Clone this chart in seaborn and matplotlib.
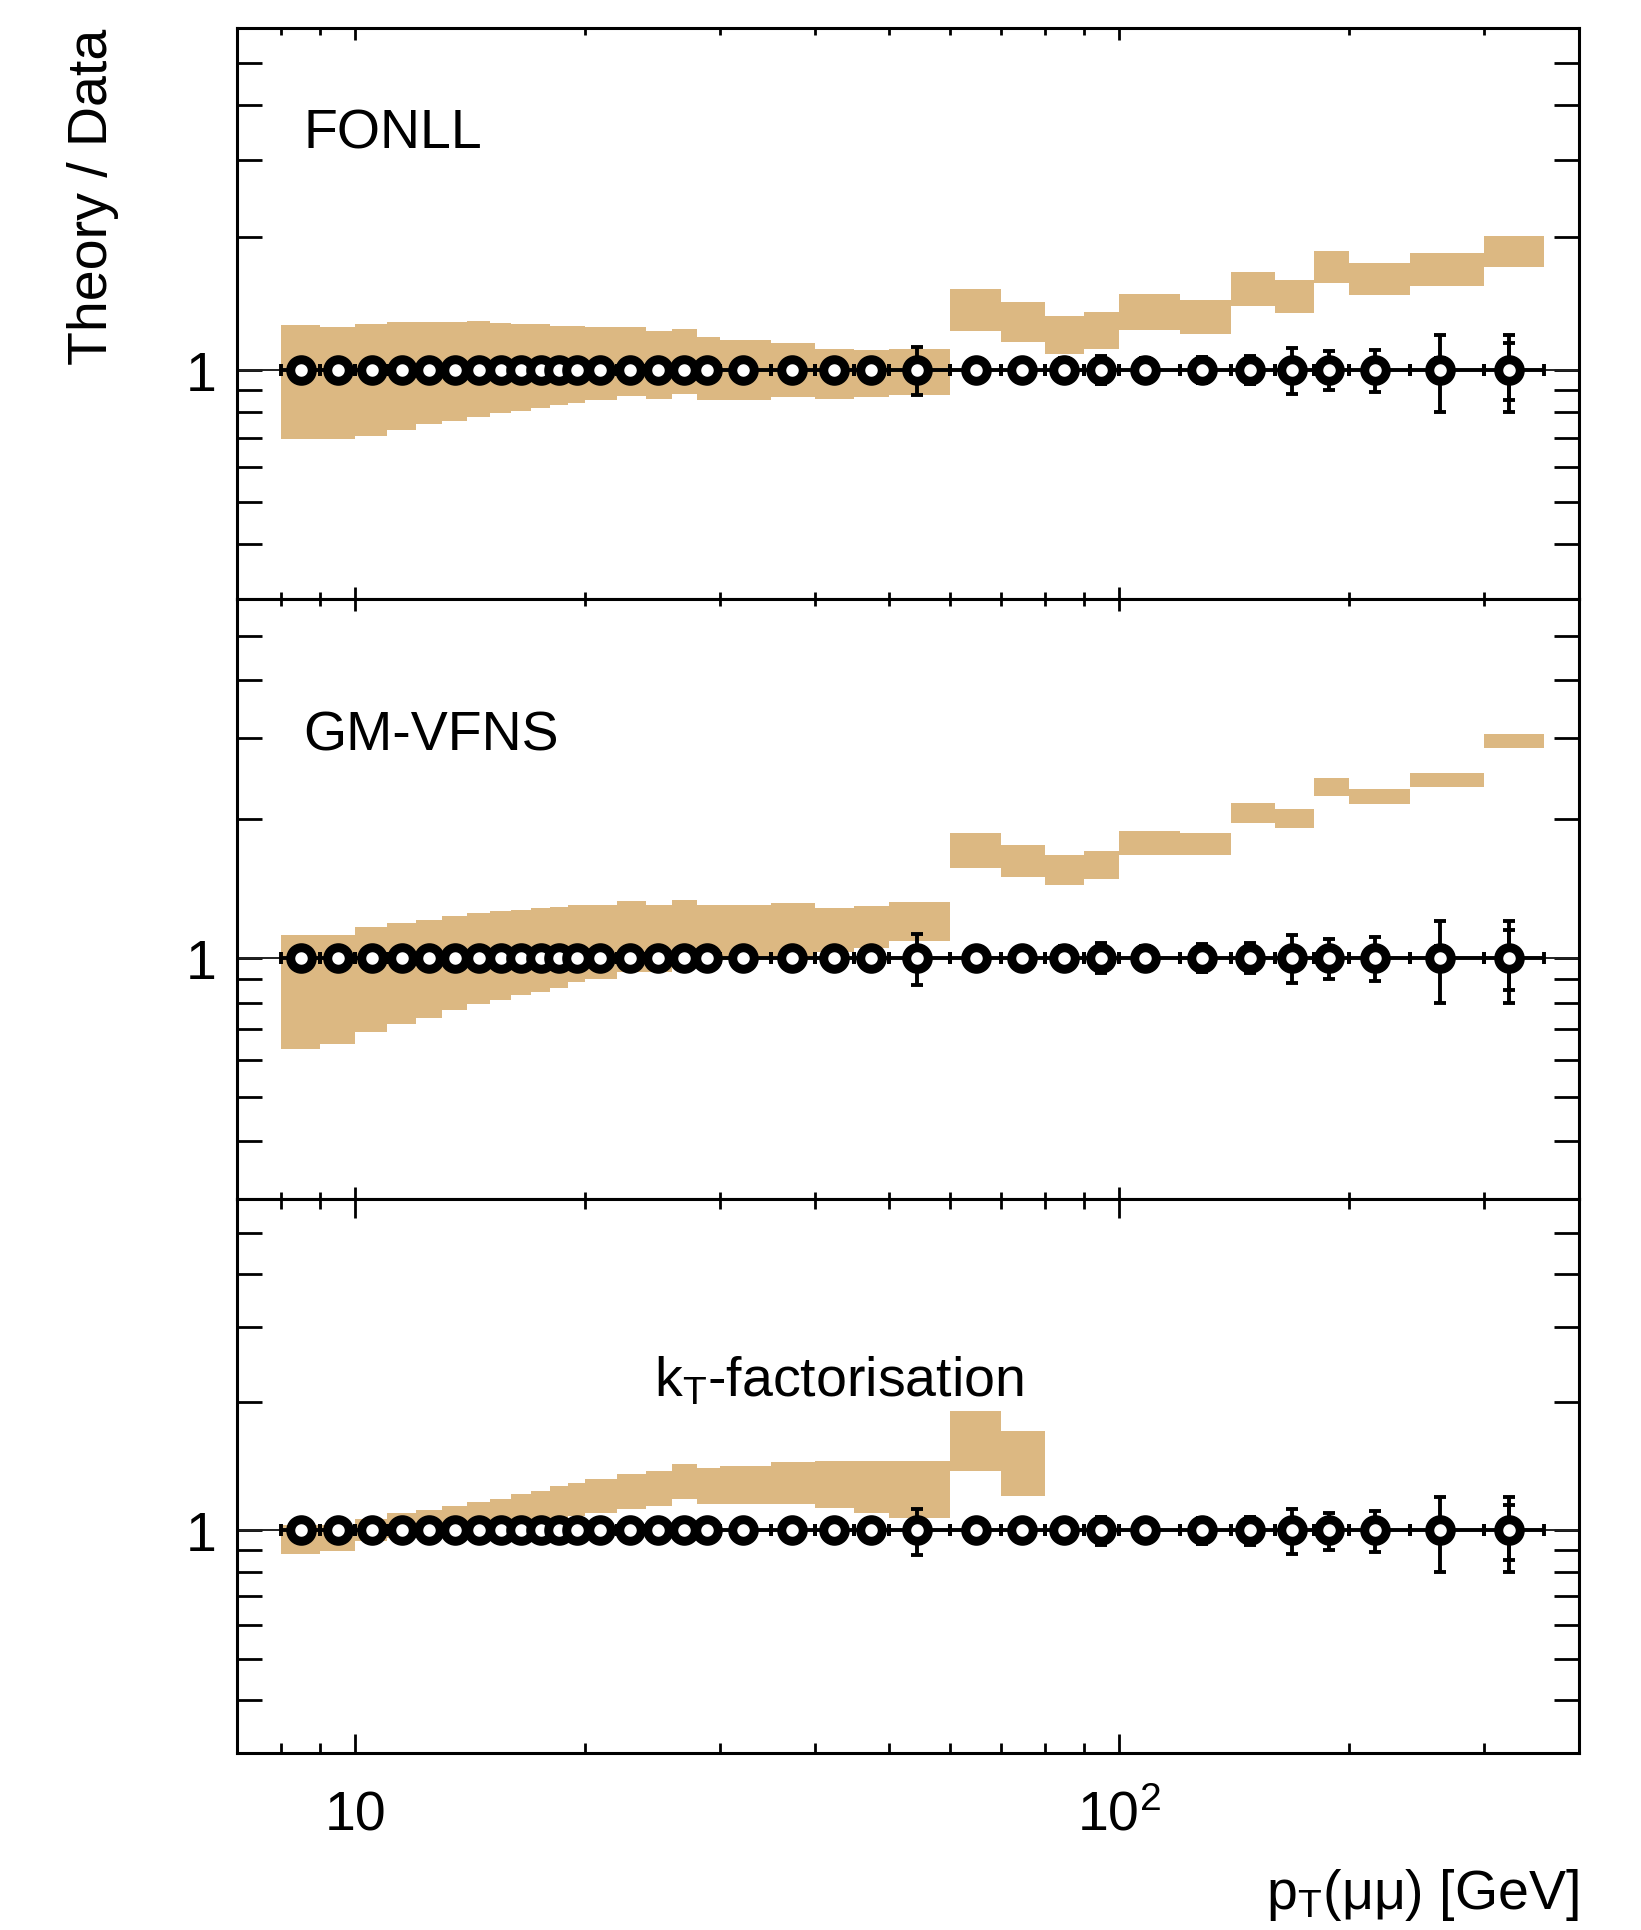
import numpy as np
import seaborn as sns
import matplotlib.pyplot as plt
from matplotlib.ticker import FixedLocator, FixedFormatter, NullFormatter

sns.set_theme(style="ticks")
plt.rcParams["font.family"] = ["Liberation Sans", "DejaVu Sans"]
plt.rcParams["mathtext.fontset"] = "custom"
plt.rcParams["mathtext.rm"] = "Liberation Sans"
plt.rcParams["mathtext.it"] = "Liberation Sans:italic"
plt.rcParams["mathtext.bf"] = "Liberation Sans:bold"

# pT(mumu) binning [GeV] and mean pT of the data points
pt_edges = [8, 9, 10, 11, 12, 13, 14, 15, 16, 17, 18, 19, 20, 22, 24, 26, 28, 30,
            35, 40, 45, 50, 60, 70, 80, 90, 100, 120, 140, 160, 180, 200, 240, 300, 360]
pt_mean = [8.5, 9.5, 10.5, 11.5, 12.5, 13.5, 14.5, 15.5, 16.5, 17.5, 18.5, 19.5,
           20.9, 22.9, 24.9, 26.9, 28.9, 32.2, 37.3, 42.3, 47.3, 54.3, 65.0, 74.6,
           84.6, 94.6, 108.2, 128.5, 148.4, 168.6, 188.5, 216.0, 263.0, 324.0]

# data / data = 1, total and statistical relative uncertainties
err_tot = [0.02, 0.02, 0.02, 0.02, 0.02, 0.02, 0.02, 0.02, 0.02, 0.02, 0.02, 0.02,
           0.02, 0.02, 0.02, 0.02, 0.02, 0.03, 0.03, 0.03, 0.04, 0.125, 0.04, 0.05,
           0.06, 0.075, 0.06, 0.07, 0.075, 0.12, 0.10, 0.11, 0.20, 0.20]
err_stat = [0.01, 0.01, 0.01, 0.01, 0.01, 0.01, 0.01, 0.01, 0.01, 0.01, 0.01, 0.01,
            0.01, 0.01, 0.01, 0.01, 0.01, 0.02, 0.02, 0.02, 0.02, 0.03, 0.02, 0.02,
            0.03, 0.03, 0.03, 0.04, 0.04, 0.05, 0.05, 0.05, 0.06, 0.15]

# theory / data bands (lower, upper edge per bin)
fonll_lo = [0.695, 0.695, 0.707, 0.730, 0.752, 0.765, 0.781, 0.796, 0.806, 0.816, 0.828, 0.838,
            0.850, 0.869, 0.857, 0.880, 0.852, 0.852, 0.864, 0.857, 0.864, 0.875,
            1.222, 1.155, 1.082, 1.111, 1.229, 1.203, 1.395, 1.342, 1.573, 1.479, 1.553, 1.712]
fonll_hi = [1.265, 1.247, 1.269, 1.280, 1.280, 1.280, 1.287, 1.275, 1.269, 1.269, 1.258, 1.258,
            1.247, 1.247, 1.221, 1.240, 1.183, 1.169, 1.147, 1.113, 1.107, 1.113,
            1.526, 1.422, 1.326, 1.354, 1.484, 1.440, 1.667, 1.601, 1.859, 1.748, 1.843, 2.020]

gmvfns_lo = [0.634, 0.652, 0.691, 0.717, 0.741, 0.770, 0.793, 0.809, 0.830, 0.844, 0.862, 0.887,
             0.902, 0.933, 0.933, 0.965, 0.980, 0.990, 1.010, 1.030, 1.050, 1.090,
             1.563, 1.499, 1.437, 1.486, 1.670, 1.670, 1.956, 1.914, 2.246, 2.154, 2.349, 2.854]
gmvfns_hi = [1.120, 1.120, 1.167, 1.193, 1.211, 1.233, 1.252, 1.262, 1.269, 1.280, 1.290, 1.301,
             1.305, 1.327, 1.305, 1.338, 1.301, 1.301, 1.312, 1.280, 1.295, 1.323,
             1.867, 1.755, 1.670, 1.707, 1.886, 1.867, 2.162, 2.098, 2.449, 2.322, 2.523, 3.051]

# kT-factorisation only up to 80 GeV
kt_lo = [0.880, 0.893, 0.944, 0.961, 0.979, 0.993, 1.005, 1.018, 1.033, 1.048, 1.067, 1.080,
         1.100, 1.120, 1.141, 1.182, 1.151, 1.155, 1.151, 1.130, 1.100, 1.067, 1.378, 1.204]
kt_hi = [1.030, 1.030, 1.061, 1.100, 1.114, 1.141, 1.167, 1.182, 1.215, 1.237, 1.271, 1.294,
         1.322, 1.359, 1.378, 1.434, 1.398, 1.416, 1.449, 1.454, 1.454, 1.454, 1.906, 1.711]

band_color = "#dcb882"
W, H = 1641, 1931


def draw_panel(ax, lo, hi, label, lx, ly, xmaj, xmin):
    edges = np.array(pt_edges, dtype=float)
    lo = np.array(lo)
    hi = np.array(hi)
    n = len(lo)
    ax.set_xscale("log")
    ax.set_yscale("log")
    ax.bar(edges[:n], hi - lo, width=np.diff(edges)[:n], bottom=lo, align="edge",
           color=band_color, linewidth=0, zorder=1)
    ax.axhline(1, color="#222222", lw=1.4, zorder=2)

    x = np.array(pt_mean)
    y = np.ones_like(x)
    xerr = [x - edges[:-1], edges[1:] - x]
    ax.errorbar(x, y, xerr=xerr, yerr=err_tot, fmt="none", ecolor="black",
                elinewidth=2.8, capsize=4.3, capthick=2.8, zorder=3)
    ax.errorbar(x, y, yerr=err_stat, fmt="none", ecolor="black",
                elinewidth=2.8, capsize=4.3, capthick=2.8, zorder=3)
    sns.scatterplot(x=x, y=y, ax=ax, marker="o", s=15.5 ** 2, color="white",
                    edgecolor="black", linewidth=6.5, zorder=4, legend=False)

    ax.set_xlim(7, 400)
    ax.set_ylim(0.3, 6)
    ax.xaxis.set_major_locator(FixedLocator([10, 100]))
    ax.xaxis.set_minor_locator(FixedLocator([8, 9, 20, 30, 40, 50, 60, 70, 80, 90, 200, 300]))
    ax.xaxis.set_minor_formatter(NullFormatter())
    ax.yaxis.set_major_locator(FixedLocator([1]))
    ax.yaxis.set_major_formatter(FixedFormatter(["1"]))
    ax.yaxis.set_minor_locator(FixedLocator([0.4, 0.5, 0.6, 0.7, 0.8, 0.9, 2, 3, 4, 5]))
    ax.yaxis.set_minor_formatter(NullFormatter())

    ax.tick_params(axis="both", which="both", direction="in", top=True, right=True,
                   width=2, color="black", labelcolor="black", labelsize=40)
    ax.tick_params(axis="y", which="both", length=18, pad=15)
    ax.tick_params(axis="x", which="major", length=xmaj)
    ax.tick_params(axis="x", which="minor", length=xmin)
    for s in ax.spines.values():
        s.set_linewidth(2.2)
        s.set_color("black")
    ax.set_xlabel("")
    ax.set_ylabel("")
    ax.text(lx, ly, label, transform=ax.transAxes, fontsize=40, va="baseline",
            ha="left", color="black")


fig = plt.figure(figsize=(W / 100, H / 100), dpi=100)
left = 237 / W
width = (1579 - 237) / W
ax1 = fig.add_axes([left, 1 - 600 / H, width, 571 / H])
ax2 = fig.add_axes([left, 1 - 1200 / H, width, 600 / H])
ax3 = fig.add_axes([left, 1 - 1754 / H, width, 554 / H])

draw_panel(ax1, fonll_lo, fonll_hi, "FONLL", 0.0497, 0.79, 8.6, 4.7)
draw_panel(ax2, gmvfns_lo, gmvfns_hi, "GM-VFNS", 0.0497, 0.749, 8.6, 4.7)
draw_panel(ax3, kt_lo, kt_hi, r"k$_{\mathrm{T}}$-factorisation", 0.311, 0.645, 13.7, 7.2)

for ax in (ax1, ax2):
    ax.xaxis.set_major_formatter(NullFormatter())

ax3.xaxis.set_major_formatter(FixedFormatter(["10", r"$\mathregular{10^{2}}$"]))
ax3.tick_params(axis="x", which="major", pad=55)
for t in ax3.xaxis.get_major_ticks():
    t.label1.set_verticalalignment("baseline")

fig.text(93 / W, 1 - 29 / H, "Theory / Data", rotation=90, ha="center", va="top",
         fontsize=40, color="black")
fig.text(1579 / W, 1 - 1909 / H, r"p$_{\mathrm{T}}$(μμ) [GeV]", ha="right",
         va="baseline", fontsize=40, color="black")

fig.savefig("out.png", dpi=100, facecolor="white")
